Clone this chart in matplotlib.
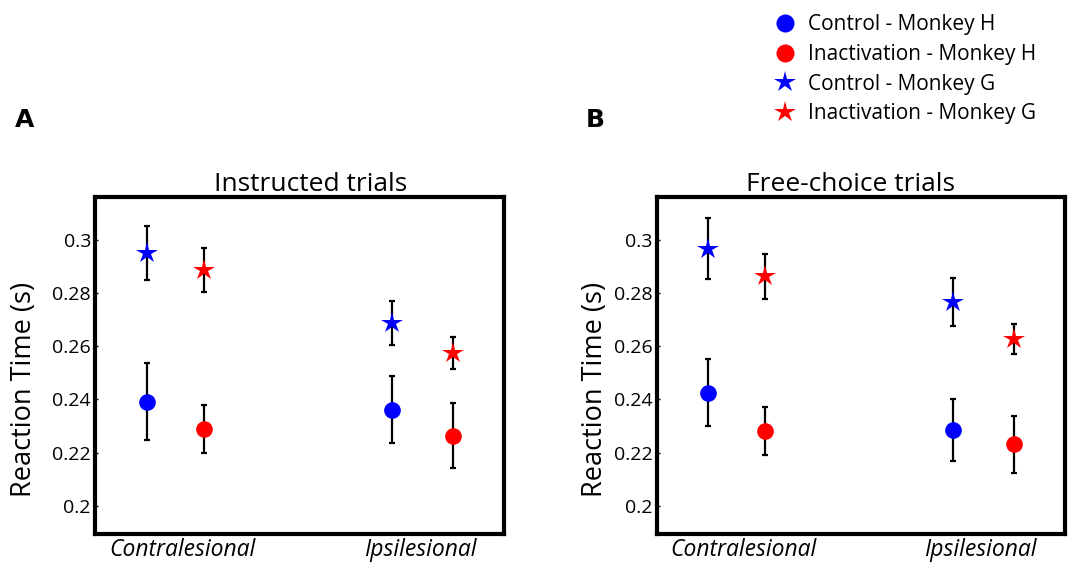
import matplotlib.pyplot as plt
from matplotlib.lines import Line2D

plt.rcParams['font.family'] = ['Open Sans', 'DejaVu Sans']

sides = ["Contralesional", "Ipsilesional"]
titles = ["Instructed trials", "Free-choice trials"]
panel_labels = ["A", "B"]
yticks = [0.2, 0.22, 0.24, 0.26, 0.28, 0.3]

# [contralesional, ipsilesional] for each panel
ctrl_H = [[0.2392, 0.2362], [0.2426, 0.2286]]
ctrl_H_err = [[0.0145, 0.0126], [0.0126, 0.0116]]
inact_H = [[0.2289, 0.2263], [0.2282, 0.2231]]
inact_H_err = [[0.0090, 0.0122], [0.0090, 0.0107]]
ctrl_G = [[0.2950, 0.2688], [0.2966, 0.2767]]
ctrl_G_err = [[0.0103, 0.0083], [0.0114, 0.0090]]
inact_G = [[0.2885, 0.2576], [0.2863, 0.2628]]
inact_G_err = [[0.0083, 0.0060], [0.0084, 0.0057]]

# horizontal placement inside each box
x_ctrl = [0.126, 0.727]
x_inact = [0.266, 0.875]
x_labels = [0.213, 0.794]

fig = plt.figure(figsize=(10.68, 5.64), dpi=100)
ax_pos = [[0.089, 0.0532, 0.383, 0.5975], [0.615, 0.0532, 0.382, 0.5975]]
ylabel_x = [-0.139, -0.118]
title_x = [0.528, 0.475]
letter_x = [0.014, 0.548]

for p in range(2):
    ax = fig.add_axes(ax_pos[p])
    groups = [(x_ctrl, ctrl_H[p], ctrl_H_err[p], 'blue', 'o', 12),
              (x_inact, inact_H[p], inact_H_err[p], 'red', 'o', 12),
              (x_ctrl, ctrl_G[p], ctrl_G_err[p], 'blue', '*', 16),
              (x_inact, inact_G[p], inact_G_err[p], 'red', '*', 16)]
    for xs, ys, es, c, m, ms in groups:
        ax.errorbar(xs, ys, yerr=es, fmt='none', ecolor='black',
                    elinewidth=1.6, capsize=2.5, capthick=1.6, zorder=2)
        ax.plot(xs, ys, linestyle='', marker=m, color=c, markersize=ms,
                markeredgewidth=0, zorder=3)

    ax.set_xlim(0, 1)
    ax.set_ylim(0.1895, 0.316)
    ax.set_yticks(yticks)
    ax.set_yticklabels(["0.2", "0.22", "0.24", "0.26", "0.28", "0.3"])
    ax.set_xticks(x_labels)
    ax.set_xticklabels(sides, fontstyle='italic', fontsize=16.5)
    ax.tick_params(axis='y', labelsize=14, length=2, width=1, direction='in', pad=3)
    ax.tick_params(axis='x', length=0, pad=3)
    for s in ax.spines.values():
        s.set_linewidth(3)
    ax.set_ylabel("Reaction Time (s)", fontsize=19.5)
    ax.yaxis.set_label_coords(ylabel_x[p], 0.43)
    ax.set_title(titles[p], fontsize=19, pad=4, x=title_x[p])
    fig.text(letter_x[p], 0.775, panel_labels[p], fontsize=18,
             fontweight='bold', family=['DejaVu Sans'])

handles = [Line2D([], [], linestyle='', marker='o', color='blue', markersize=13, markeredgewidth=0),
           Line2D([], [], linestyle='', marker='o', color='red', markersize=13, markeredgewidth=0),
           Line2D([], [], linestyle='', marker='*', color='blue', markersize=16, markeredgewidth=0),
           Line2D([], [], linestyle='', marker='*', color='red', markersize=16, markeredgewidth=0)]
legend_labels = ["Control - Monkey H", "Inactivation - Monkey H",
                 "Control - Monkey G", "Inactivation - Monkey G"]
fig.legend(handles=handles, labels=legend_labels, loc='upper left',
           bbox_to_anchor=(0.708, 1.008), frameon=False, fontsize=15,
           handlelength=1.0, handletextpad=0.6, labelspacing=0.42)

plt.savefig('out.png', dpi=100)
